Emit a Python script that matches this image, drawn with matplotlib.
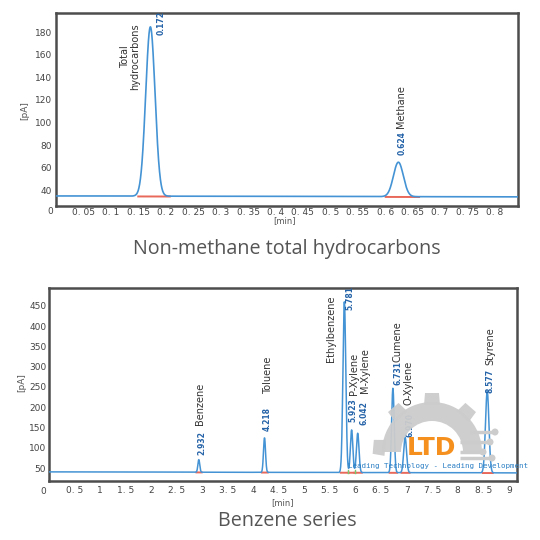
import numpy as np
import matplotlib
matplotlib.use("Agg")
import matplotlib.pyplot as plt
from matplotlib.patches import Wedge, Polygon, Circle

# --- top chromatogram: non-methane total hydrocarbons ---
nmhc_names = ["Total\nhydrocarbons", "Methane"]
nmhc_rt = [0.172, 0.624]            # retention time [min]
nmhc_height = [150.0, 30.5]         # peak height above baseline [pA]
nmhc_sigma = [0.0085, 0.009]        # peak width [min]
nmhc_baseline = [34.9, 34.1]        # baseline at start / end [pA]
nmhc_xmax = 0.842
nmhc_xticks = [0.05, 0.1, 0.15, 0.2, 0.25, 0.3, 0.35, 0.4, 0.45, 0.5,
               0.55, 0.6, 0.65, 0.7, 0.75, 0.8]
nmhc_yticks = [40, 60, 80, 100, 120, 140, 160, 180]

# --- bottom chromatogram: benzene series ---
bz_names = ["Benzene", "Toluene", "Ethylbenzene", "P-Xylene", "M-Xylene",
            "Cumene", "O-Xylene", "Styrene"]
bz_rt = [2.932, 4.218, 5.781, 5.923, 6.042, 6.731, 6.970, 8.577]
bz_height = [31, 85, 421, 105, 97, 208, 87, 201]
bz_sigma = [0.018, 0.02, 0.028, 0.024, 0.025, 0.025, 0.028, 0.034]
bz_baseline = [40.5, 38.0]
bz_xmax = 9.16
bz_xticks = [0.5, 1, 1.5, 2, 2.5, 3, 3.5, 4, 4.5, 5, 5.5, 6, 6.5, 7, 7.5, 8, 8.5, 9]
bz_yticks = [50, 100, 150, 200, 250, 300, 350, 400, 450]

# label placement (x, y of the bottom end of the rotated text), in data units
nmhc_num_pos = [(0.191, 177.5), (0.630, 71)]
nmhc_name_pos = [(0.135, 158), (0.628, 95)]
bz_num_pos = [(2.99, 82), (4.28, 141), (5.89, 440), (5.94, 164), (6.16, 156),
              (6.83, 255), (7.06, 127), (8.63, 235)]
bz_name_pos = [(2.95, 156), (4.28, 233), (5.51, 311), (5.96, 230), (6.18, 235),
               (6.83, 311), (7.04, 205), (8.63, 304)]

LINE = "#4493d4"
NUM = "#2563a8"
GRAY = "#555555"


def trace(x, rts, heights, sigmas, base):
    y = np.interp(x, [x[0], x[-1]], base)
    for rt, h, s in zip(rts, heights, sigmas):
        y = y + h * np.exp(-0.5 * ((x - rt) / s) ** 2)
    return y


def fmt(v):
    s = ("%g" % v)
    return s.replace(".", ". ")


def style_axes(ax, xticks, yticks, xpad, ypad):
    for sp in ax.spines.values():
        sp.set_color("#4d4d4d")
        sp.set_linewidth(1.8)
    ax.set_xticks(xticks)
    ax.set_xticklabels([fmt(v) for v in xticks])
    ax.set_yticks(yticks)
    ax.tick_params(length=0, labelsize=6.5, colors="#444444")
    ax.tick_params(axis="x", pad=xpad)
    ax.tick_params(axis="y", pad=ypad)


fig = plt.figure(figsize=(5.4, 5.4), dpi=100)
fig.patch.set_facecolor("white")

# top panel
ax1 = fig.add_axes([56 / 540, 1 - 206 / 540, 462 / 540, 193 / 540])
x1 = np.linspace(0, nmhc_xmax, 3000)
base1 = np.interp(x1, [0, nmhc_xmax], nmhc_baseline)
ax1.plot(x1, trace(x1, nmhc_rt, nmhc_height, nmhc_sigma, nmhc_baseline),
         color=LINE, lw=1.2, zorder=3)
for rt, s in zip(nmhc_rt, nmhc_sigma):
    m = (x1 > rt - 2.6 * s) & (x1 < rt + 4.2 * s)
    ax1.plot(x1[m], base1[m] - 0.3, color="#e8685a", lw=1.4, zorder=2)
ax1.set_xlim(0, nmhc_xmax)
ax1.set_ylim(26, 197)
style_axes(ax1, nmhc_xticks, nmhc_yticks, 1.5, 3)
for i, rt in enumerate(nmhc_rt):
    nx, ny = nmhc_num_pos[i]
    ax1.text(nx, ny, "%.3f" % rt, rotation=90, ha="center", va="bottom",
             fontsize=5.5, color=NUM, fontweight="bold", clip_on=True)
    tx, ty = nmhc_name_pos[i]
    ax1.text(tx, ty, nmhc_names[i], rotation=90, ha="center",
             va="center" if i == 0 else "bottom", multialignment="center",
             fontsize=7, color="#333333", linespacing=1.1)

# bottom panel
ax2 = fig.add_axes([49 / 540, 1 - 481 / 540, 468 / 540, 193 / 540])
x2 = np.linspace(0, bz_xmax, 5000)
base2 = np.interp(x2, [0, bz_xmax], bz_baseline)
ax2.plot(x2, trace(x2, bz_rt, bz_height, bz_sigma, bz_baseline),
         color=LINE, lw=1.1, zorder=3)
for rt, s in zip(bz_rt, bz_sigma):
    m = (x2 > rt - 2.6 * s) & (x2 < rt + 3.2 * s)
    ax2.plot(x2[m], base2[m] - 0.5, color="#e8685a", lw=1.4, zorder=2)
for xv in [5.86, 5.99]:
    ax2.plot([xv, xv], [bz_baseline[1], bz_baseline[1] + 8], color="#7bc96f",
             lw=1, zorder=2)
ax2.set_xlim(0, bz_xmax)
ax2.set_ylim(18, 494)
style_axes(ax2, bz_xticks, bz_yticks, 3.5, 2)
for i, rt in enumerate(bz_rt):
    nx, ny = bz_num_pos[i]
    ax2.text(nx, ny, "%.3f" % rt, rotation=90, ha="center", va="bottom",
             fontsize=5.5, color=NUM, fontweight="bold", clip_on=True)
    tx, ty = bz_name_pos[i]
    ax2.text(tx, ty, bz_names[i], rotation=90, ha="center", va="bottom",
             fontsize=7, color="#333333")

# axis captions, corner zeros and titles
def ftext(px, py, s, **kw):
    fig.text(px / 540, 1 - py / 540, s, ha="center", va="center", **kw)

ftext(25, 111, "[pA]", rotation=90, fontsize=6.5, color=GRAY)
ftext(22, 383, "[pA]", rotation=90, fontsize=6.5, color=GRAY)
ftext(285, 221, "[min]", fontsize=6, color=GRAY)
ftext(283, 503, "[min]", fontsize=6, color=GRAY)
ftext(50, 212, "0", fontsize=6.5, color="#444444")
ftext(43, 491, "0", fontsize=6.5, color="#444444")
ftext(287, 249, "Non-methane total hydrocarbons", fontsize=14.2, color=GRAY,
      family="Open Sans")
ftext(287, 521, "Benzene series", fontsize=14.2, color=GRAY, family="Open Sans")

# watermark logo overlay (pixel coordinates)
wm = fig.add_axes([0, 0, 1, 1], zorder=10)
wm.set_xlim(0, 540)
wm.set_ylim(540, 0)
wm.axis("off")
wm.patch.set_alpha(0)
gear = "#cccccc"
cx, cy, r_out, r_in = 432, 452, 50, 31
wm.add_patch(Wedge((cx, cy), r_out, 180, 360, width=r_out - r_in,
                   facecolor=gear, edgecolor="none", alpha=0.95))
for a in [185, 229, 270, 311]:
    t = np.radians(a)
    ur = np.array([np.cos(t), np.sin(t)])
    ut = np.array([-np.sin(t), np.cos(t)])
    c = np.array([cx, cy])
    pts = [c + ur * (r_out - 3) + ut * 8, c + ur * (r_out + 9) + ut * 7,
           c + ur * (r_out + 9) - ut * 7, c + ur * (r_out - 3) - ut * 8]
    wm.add_patch(Polygon(pts, closed=True, facecolor=gear, edgecolor="none",
                         alpha=0.95))
for (y, xs, xe) in [(432, 470, 495), (442, 460, 490), (452, 460, 483), (458, 460, 492)]:
    wm.plot([xs, xe], [y, y], color=gear, lw=2.5, solid_capstyle="butt")
    wm.add_patch(Circle((xe, y), 3.5, facecolor=gear, edgecolor="none"))
wm.text(431, 448, "LTD", ha="center", va="center", fontsize=18,
        fontweight="bold", color="#f5901e")
wm.text(438, 466, "Leading Technology - Leading Development", ha="center",
        va="center", fontsize=5.4, family="DejaVu Sans Mono", color="#2b7fc4")

fig.savefig("out.png", dpi=100)
